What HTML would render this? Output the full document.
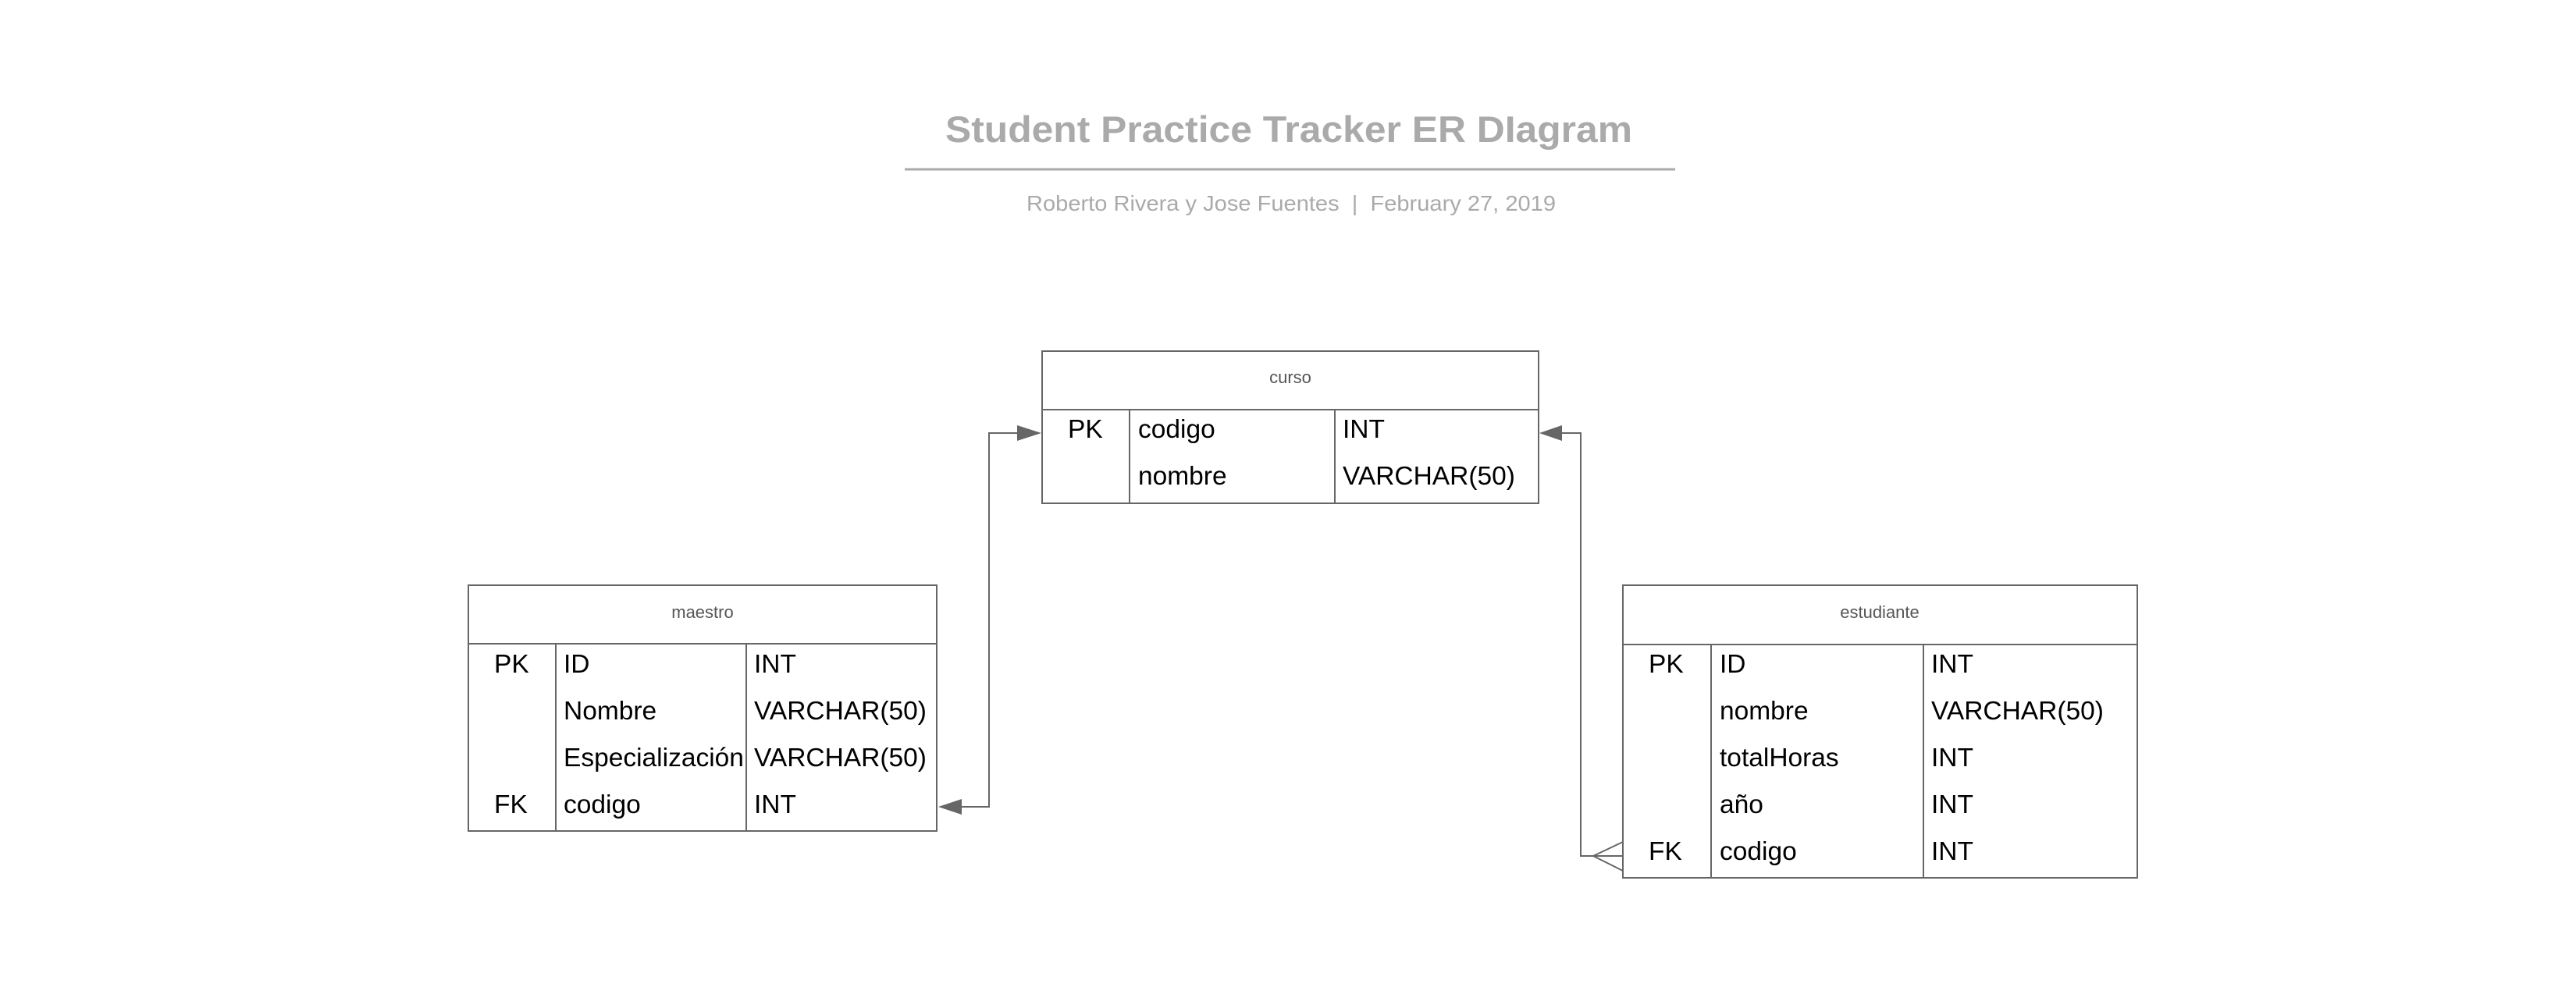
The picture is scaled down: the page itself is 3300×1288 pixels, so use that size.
<!DOCTYPE html>
<html><head><meta charset="utf-8"><style>
html,body{margin:0;padding:0;background:#fff;}
svg{display:block;}
text{font-family:"Liberation Sans",sans-serif;}
</style></head><body>
<svg width="3300" height="1288" viewBox="0 0 3300 1288" xmlns="http://www.w3.org/2000/svg">
<rect width="3300" height="1288" fill="#fff"/>
<text x="1651" y="182" text-anchor="middle" font-size="47" font-weight="bold" fill="#aaaaaa" textLength="880" lengthAdjust="spacingAndGlyphs">Student Practice Tracker ER DIagram</text>
<rect x="1159" y="215.5" width="987" height="3" fill="#aaaaaa"/>
<text x="1654" y="270" text-anchor="middle" font-size="28" fill="#aaaaaa" textLength="678" lengthAdjust="spacingAndGlyphs" xml:space="preserve">Roberto Rivera y Jose Fuentes  |  February 27, 2019</text>

<g fill="none" stroke="#666" stroke-width="2">
<rect x="1335" y="450" width="636" height="195"/>
<line x1="1335" y1="525" x2="1971" y2="525"/>
<line x1="1447" y1="525" x2="1447" y2="645"/>
<line x1="1710" y1="525" x2="1710" y2="645"/>
<rect x="600" y="750" width="600" height="315"/>
<line x1="600" y1="825" x2="1200" y2="825"/>
<line x1="712" y1="825" x2="712" y2="1065"/>
<line x1="956" y1="825" x2="956" y2="1065"/>
<rect x="2079" y="750" width="659" height="375"/>
<line x1="2079" y1="826" x2="2738" y2="826"/>
<line x1="2192" y1="826" x2="2192" y2="1125"/>
<line x1="2464" y1="826" x2="2464" y2="1125"/>
<polyline points="1303,555 1267,555 1267,1034 1232,1034"/>
<polyline points="2001,555 2025,555 2025,1097 2079,1097"/>
<line x1="2041" y1="1097" x2="2079" y2="1079"/>
<line x1="2041" y1="1097" x2="2079" y2="1116"/>
</g>
<g fill="#666">
<polygon points="1303,545 1334,555 1303,565"/>
<polygon points="2001,545 1972,555 2001,565"/>
<polygon points="1232,1024 1202,1034 1232,1044"/>
</g>

<g font-size="22" fill="#555" text-anchor="middle">
<text x="1653" y="491">curso</text>
<text x="900" y="792">maestro</text>
<text x="2408" y="792">estudiante</text>
</g>
<g font-size="33.5" fill="#000">
<text x="1368" y="561">PK</text><text x="1458" y="561">codigo</text><text x="1720" y="561">INT</text>
<text x="1458" y="621">nombre</text><text x="1720" y="621">VARCHAR(50)</text>

<text x="633" y="862">PK</text><text x="722" y="862">ID</text><text x="966" y="862">INT</text>
<text x="722" y="922">Nombre</text><text x="966" y="922">VARCHAR(50)</text>
<text x="722" y="982">Especialización</text><text x="966" y="982">VARCHAR(50)</text>
<text x="633" y="1042">FK</text><text x="722" y="1042">codigo</text><text x="966" y="1042">INT</text>

<text x="2112" y="862">PK</text><text x="2203" y="862">ID</text><text x="2474" y="862">INT</text>
<text x="2203" y="922">nombre</text><text x="2474" y="922">VARCHAR(50)</text>
<text x="2203" y="982">totalHoras</text><text x="2474" y="982">INT</text>
<text x="2203" y="1042">año</text><text x="2474" y="1042">INT</text>
<text x="2112" y="1102">FK</text><text x="2203" y="1102">codigo</text><text x="2474" y="1102">INT</text>
</g>
</svg>
</body></html>
